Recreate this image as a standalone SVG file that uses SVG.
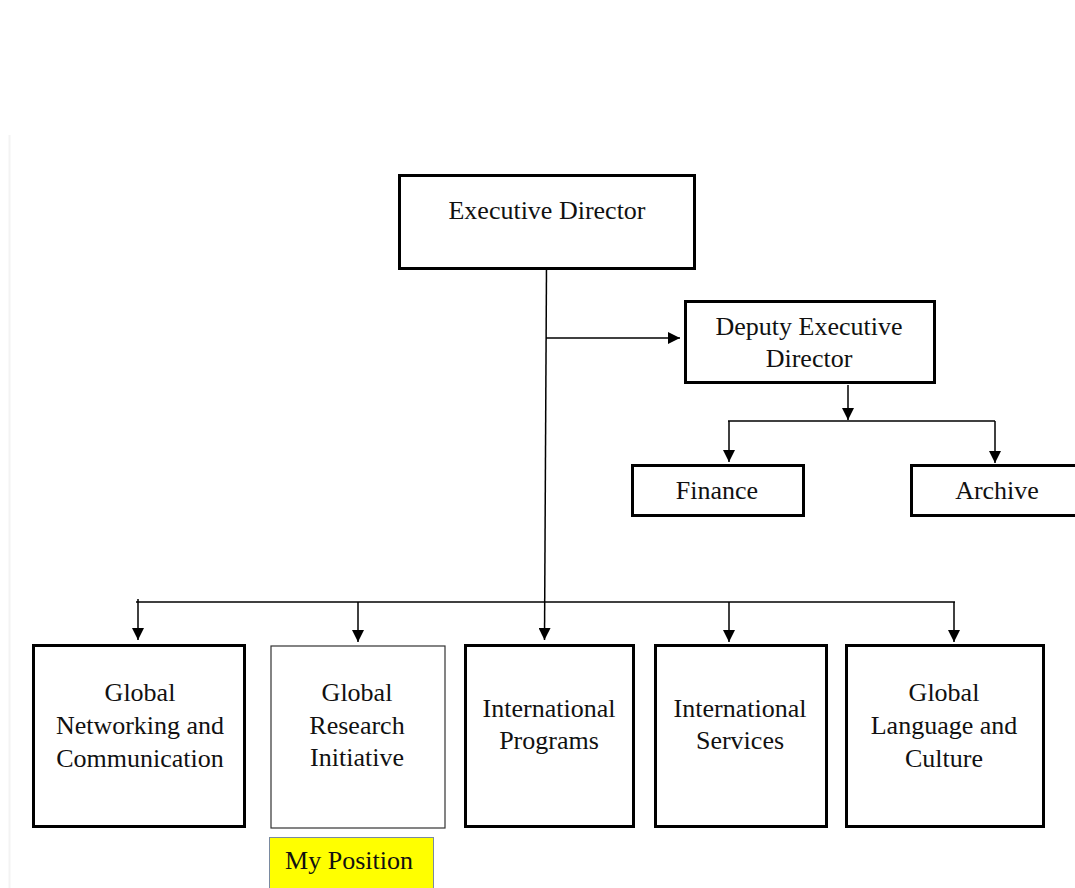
<svg xmlns="http://www.w3.org/2000/svg" width="1075" height="888" viewBox="0 0 1075 888">
<style>
.box{fill:#fff;stroke:#000;stroke-width:3}
.thin{fill:#fff;stroke:#333;stroke-width:1.2}
.t{font-family:"Liberation Serif","Times New Roman",serif;font-size:26px;fill:#111;text-anchor:middle}
.c{fill:none;stroke:#000;stroke-width:1.5}
</style>
<defs>
<marker id="ah2" viewBox="0 0 10 10" refX="10" refY="5" markerWidth="12" markerHeight="12" markerUnits="userSpaceOnUse" orient="auto">
<path d="M0,0 L10,5 L0,10 z" fill="#000"/>
</marker>
</defs>
<rect width="1075" height="888" fill="#fff"/>
<line x1="9.5" y1="135" x2="9.5" y2="888" stroke="#f3f3f3" stroke-width="2"/>
<g id="connectors">
<line class="c" x1="546.5" y1="265" x2="544.5" y2="640" stroke="#444" marker-end="url(#ah2)"/>
<line class="c" x1="546" y1="338" x2="680" y2="338" marker-end="url(#ah2)"/>
<line class="c" x1="848" y1="385" x2="848" y2="420" marker-end="url(#ah2)"/>
<line class="c" x1="728" y1="421" x2="995" y2="421"/>
<line class="c" x1="729" y1="421" x2="729" y2="462" marker-end="url(#ah2)"/>
<line class="c" x1="995" y1="421" x2="995" y2="463" marker-end="url(#ah2)"/>
<line class="c" x1="136" y1="602" x2="955" y2="602"/>
<line class="c" x1="138" y1="599" x2="138" y2="640" marker-end="url(#ah2)"/>
<line class="c" x1="358" y1="602" x2="358" y2="642" marker-end="url(#ah2)"/>
<line class="c" x1="729" y1="602" x2="729" y2="642" marker-end="url(#ah2)"/>
<line class="c" x1="954" y1="602" x2="954" y2="642" marker-end="url(#ah2)"/>
</g>
<g id="executive-director">
<rect class="box" x="399.5" y="175.5" width="295" height="93"/>
<text class="t" x="547" y="219">Executive Director</text>
</g>
<g id="deputy-executive-director">
<rect class="box" x="685.5" y="301.5" width="249" height="81"/>
<text class="t" x="809" y="335">Deputy Executive</text>
<text class="t" x="809" y="367">Director</text>
</g>
<g id="finance">
<rect class="box" x="632.5" y="465.5" width="171" height="50"/>
<text class="t" x="717" y="499">Finance</text>
</g>
<g id="archive">
<rect class="box" x="911.5" y="465.5" width="170" height="50"/>
<text class="t" x="997" y="499">Archive</text>
</g>
<g id="global-networking">
<rect class="box" x="33.5" y="645.5" width="211" height="181"/>
<text class="t" x="140" y="701">Global</text>
<text class="t" x="140" y="734">Networking and</text>
<text class="t" x="140" y="767">Communication</text>
</g>
<g id="global-research">
<rect class="thin" x="271" y="646" width="174" height="182"/>
<text class="t" x="357" y="701">Global</text>
<text class="t" x="357" y="734">Research</text>
<text class="t" x="357" y="766">Initiative</text>
</g>
<g id="international-programs">
<rect class="box" x="465.5" y="645.5" width="168" height="181"/>
<text class="t" x="549" y="717">International</text>
<text class="t" x="549" y="749">Programs</text>
</g>
<g id="international-services">
<rect class="box" x="655.5" y="645.5" width="171" height="181"/>
<text class="t" x="740" y="717">International</text>
<text class="t" x="740" y="749">Services</text>
</g>
<g id="global-language">
<rect class="box" x="846.5" y="645.5" width="197" height="181"/>
<text class="t" x="944" y="701">Global</text>
<text class="t" x="944" y="734">Language and</text>
<text class="t" x="944" y="767">Culture</text>
</g>
<g id="my-position">
<rect x="269.5" y="837.5" width="164" height="55" fill="#ffff00" stroke="#7a8aa0" stroke-width="1"/>
<text class="t" x="349" y="869">My Position</text>
</g>
</svg>
